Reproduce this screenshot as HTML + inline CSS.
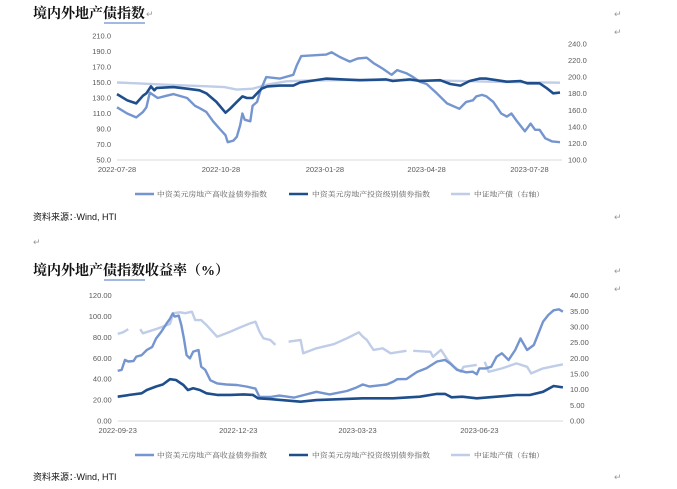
<!DOCTYPE html>
<html><head><meta charset="utf-8">
<style>
html,body{margin:0;padding:0;background:#fff;}
svg{display:block;font-family:"Liberation Sans","Noto Sans CJK SC",sans-serif;}
.tick{font-size:7.5px;fill:#595959;}
.leg{font-size:7px;fill:#595959;font-family:"Noto Serif CJK SC","Noto Sans CJK SC",serif;}
.title{font-size:14px;font-weight:bold;fill:#111;font-family:"Liberation Serif","Noto Serif CJK SC",serif;}
.src{font-size:9px;fill:#111;}
.ret{font-size:9px;fill:#999;}
</style></head>
<body>
<svg id="root" width="677" height="489" viewBox="0 0 677 489" xmlns="http://www.w3.org/2000/svg">
<text class="title" x="33" y="18">境内外地产债指数</text>
<path d="M104 23 h41" stroke="#4472c4" stroke-width="1"/>
<text class="ret" x="146" y="17">↵</text>
<text class="ret" x="614" y="17">↵</text>
<text class="ret" x="614" y="35">↵</text>
<text class="src" x="33" y="220">资料来源：·Wind, HTI</text>
<text class="ret" x="614" y="220">↵</text>
<text class="ret" x="33" y="245">↵</text>
<text class="title" x="33" y="275">境内外地产债指数收益率（%）</text>
<path d="M104 280 h41" stroke="#4472c4" stroke-width="1"/>
<text class="ret" x="614" y="274">↵</text>
<text class="ret" x="614" y="292">↵</text>
<text class="src" x="33" y="480">资料来源：·Wind, HTI</text>
<text class="ret" x="614" y="480">↵</text>
<g id="c1"></g>
<g id="c2"></g>
</svg>
<script>
// ---- Chart 1 data (x = days since 2022-07-28) ----
const c1XTickDays = [0, 92, 184, 274, 365];
const c1XTickLabels = ["2022-07-28", "2022-10-28", "2023-01-28", "2023-04-28", "2023-07-28"];
const c1LeftTicks = [50, 70, 90, 110, 130, 150, 170, 190, 210];
const c1RightTicks = [100, 120, 140, 160, 180, 200, 220, 240];
const c1HYDays = [0,9,17,23,26,29,36,44,50,57,62,69,73,79,85,91,96,98,103,106,109,111,113,118,120,124,127,130,132,138,144,156,159,163,185,190,197,206,213,221,227,235,243,248,256,262,268,274,283,292,303,309,315,318,323,327,333,340,345,349,354,361,366,370,374,379,385,392];
const c1HYValues = [118,110,105,112,118,137,130,133,135,132,130,120,117,112,100,90,82,73,75,80,95,110,102,100,120,125,140,150,157,156,155,160,172,184,186,189,183,177,181,182,175,168,160,166,162,157,151,148,136,123,116,125,127,132,134,132,125,110,106,110,100,87,97,89,89,78,74,73];
const c1IGDays = [0,9,17,23,26,30,33,35,50,62,73,79,88,96,100,106,111,115,120,124,128,133,144,156,162,185,200,215,238,244,259,268,286,295,304,312,321,327,345,357,363,374,380,386,392];
const c1IGValues = [135,127,123,133,136,145,140,143,144,142,140,136,125,111,116,125,132,130,130,136,142,145,146,146,150,155,154,153,154,152,154,152,153,148,146,152,155,155,151,152,149,149,143,136,137];
const c1CSIDays = [0,20,40,60,80,95,106,120,133,150,170,200,250,300,350,392];
const c1CSIValues = [193.5,192.5,191,190,189,188,185,186,191,195,196,196.5,196.5,195.5,194,193.3];

// ---- Chart 2 data (x = days since 2022-09-23) ----
const c2XTickDays = [0, 91, 181, 273];
const c2XTickLabels = ["2022-09-23", "2022-12-23", "2023-03-23", "2023-06-23"];
const c2LeftTicks = [0, 20, 40, 60, 80, 100, 120];
const c2RightTicks = [0, 5, 10, 15, 20, 25, 30, 35, 40];
const c2HYDays = [0,3,5.5,8,12,14,18,22,26,29,33,37,39.5,41.5,43,46,48,50,52,54.5,57,61,63,66,70,75,82,90,97,104,107,115,122,133,150,160,173,180,185,190,203,208,211,218,226,233,241,247,251,256,263,268,271,273,278,282,286,290,295,300,304,309,314,316,321,325,329,333,336];
const c2HYValues = [48,49,58.5,57,57.5,61.7,63,68,71,79,85.6,93.6,98,103,100,101,92,79,63,60,66.5,68,52,49,39,36,35,34.5,33,31,23,23,24.3,22.4,28,25.5,28.7,32,35,33,35,37.7,40,40.2,47,50.5,57,58.5,55,49,46.6,47.2,44.7,50.4,50.4,52,61.6,64.8,58.4,68,79,68,72.8,79,95,101.5,106,107,104.7];
const c2IGDays = [0,9,18,22,29,34,39.5,44,49.6,53,57,62,67,75,85,95,102,106,115,138,150,170,185,208,228,241,247,252,260,271,286,301,311,321,329,336];
const c2IGValues = [23.3,25,26.5,29.7,33,35,40,39.3,34.5,29.7,31.3,29.7,26.5,25,25,25.5,25,21.7,21,18.5,20,21,21.7,21.7,23.3,26,26,22.7,23.3,21.7,23.3,24.9,24.9,28,33.5,32.2];
const c2CSIDays = [0,4,8,12,17,19,30,39.5,42,47,51,56,58.5,63,67,75,85,92,100,104,107,110,115,119,124,129,138,140,150,163,173,182,185,188,193,200,206,213,218,220,223,236,238,244,249,254,259,261,271,274,277,280,290,301,309,312,321,336];
const c2CSIValues = [27.8,28.3,29.3,null,29.3,28,29.5,31,34.4,34.7,34.4,34.9,32.2,32.2,30.6,26.9,28.5,29.8,31.2,31.7,28.5,26.4,25.9,24.3,null,25.3,25.9,21.6,23.2,24.5,26.4,28.3,26.9,25.9,22.7,23.2,21.6,22.1,22.4,null,22.4,22.1,20.5,22.7,19.5,17.3,15.7,17.3,17.9,null,18.9,15.7,16.8,18.4,17.3,15.2,16.8,18.1];

const NS = "http://www.w3.org/2000/svg";
const C_HY = "#7495cf", C_IG = "#1f4e8c", C_CSI = "#bfcde8";
function mk(parent, tag, attrs) {
  const el = document.createElementNS(NS, tag);
  for (const k in attrs) el.setAttribute(k, attrs[k]);
  parent.appendChild(el);
  return el;
}
function linePath(days, vals, xf, yf) {
  let d = "", pen = false;
  for (let i = 0; i < days.length; i++) {
    if (vals[i] === null) { pen = false; continue; }
    d += (pen ? "L" : "M") + xf(days[i]).toFixed(1) + " " + yf(vals[i]).toFixed(1);
    pen = true;
  }
  return d;
}
function drawChart(g, cfg) {
  const { xf, yl, yr, x0, x1, yBase } = cfg;
  const ax = mk(g, "line", { x1: x0, y1: yBase, x2: x1, y2: yBase, stroke: "#d9d9d9", "stroke-width": 1 });
  
  
  cfg.leftTicks.forEach(v => {
    const t = mk(g, "text", { x: x0 - 6, y: yl(v) + 2.5, "text-anchor": "end", class: "tick" });
    t.textContent = v.toFixed(cfg.dec);
    
    
  });
  cfg.rightTicks.forEach(v => {
    const t = mk(g, "text", { x: cfg.rx, y: yr(v) + 2.5, "text-anchor": "start", class: "tick" });
    t.textContent = v.toFixed(cfg.dec);
    
    
  });
  cfg.xDays.forEach((d, i) => {
    const t = mk(g, "text", { x: xf(d), y: yBase + 12, "text-anchor": "middle", class: "tick" });
    t.textContent = cfg.xLabels[i];
    
    
  });
  const s3 = mk(g, "path", { d: linePath(cfg.csiD, cfg.csiV, xf, yr), fill: "none", stroke: C_CSI, "stroke-width": 2.4, "stroke-linejoin": "round" });
  
  
  const s1 = mk(g, "path", { d: linePath(cfg.hyD, cfg.hyV, xf, yl), fill: "none", stroke: C_HY, "stroke-width": 2.4, "stroke-linejoin": "round" });
  
  
  const s2 = mk(g, "path", { d: linePath(cfg.igD, cfg.igV, xf, yl), fill: "none", stroke: C_IG, "stroke-width": 2.6, "stroke-linejoin": "round" });
  
  
  const leg = [
    [135, 157, 110, C_HY, "中资美元房地产高收益债券指数"],
    [289, 312, 118, C_IG, "中资美元房地产投资级别债券指数"],
    [451, 474, 70, C_CSI, "中证地产债（右轴）"]
  ];
  leg.forEach(e => {
    const l = mk(g, "line", { x1: e[0], y1: cfg.legY, x2: e[0] + 19, y2: cfg.legY, stroke: e[3], "stroke-width": 2.6 });
    
    
    const t = mk(g, "text", { x: e[1], y: cfg.legY + 2.5, class: "leg", textLength: e[2], lengthAdjust: "spacingAndGlyphs" });
    t.textContent = e[4];
    
    
  });
}
drawChart(document.getElementById("c1"), {
  xf: d => 117 + d * 1.13,
  yl: v => 160 - (v - 50) * 0.775,
  yr: v => 160 - (v - 100) * 0.8286,
  x0: 117, x1: 562, yBase: 160, rx: 568, dec: 1, legY: 194,
  leftTicks: c1LeftTicks, rightTicks: c1RightTicks, xDays: c1XTickDays, xLabels: c1XTickLabels,
  hyD: c1HYDays, hyV: c1HYValues, igD: c1IGDays, igV: c1IGValues, csiD: c1CSIDays, csiV: c1CSIValues
});
drawChart(document.getElementById("c2"), {
  xf: d => 117.7 + d * 1.325,
  yl: v => 421 - v * 1.044,
  yr: v => 421 - v * 3.133,
  x0: 117.7, x1: 563, yBase: 421, rx: 570, dec: 2, legY: 455,
  leftTicks: c2LeftTicks, rightTicks: c2RightTicks, xDays: c2XTickDays, xLabels: c2XTickLabels,
  hyD: c2HYDays, hyV: c2HYValues, igD: c2IGDays, igV: c2IGValues, csiD: c2CSIDays, csiV: c2CSIValues
});
</script>
</body></html>
